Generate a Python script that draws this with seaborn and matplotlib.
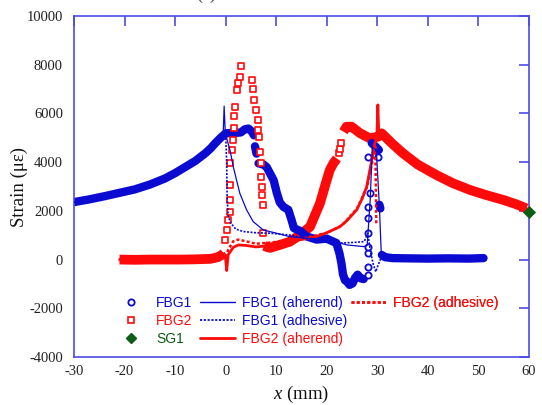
import numpy as np
import pandas as pd
import matplotlib
matplotlib.use("Agg")
import matplotlib.pyplot as plt
from matplotlib.lines import Line2D
import seaborn as sns

sns.set_theme(style="white")
plt.rcParams["font.family"] = ["Liberation Serif", "DejaVu Serif"]
plt.rcParams["axes.unicode_minus"] = False
plt.rcParams["mathtext.fontset"] = "custom"
plt.rcParams["mathtext.it"] = "Liberation Serif:italic"
plt.rcParams["mathtext.rm"] = "Liberation Serif"

# ---------------- data (x in mm, strain in microstrain) ----------------
# FBG1 measurements: dense runs
fbg1_run1_x = [-30, -27, -24, -21, -18, -15, -12, -10, -8, -6, -4, -3, -2, -1, 0, 1, 2, 3, 3.8, 4.5, 5.2, 5.6]
fbg1_run1_y = [2360, 2470, 2600, 2740, 2880, 3080, 3330, 3550, 3800, 4050, 4370, 4560, 4790, 5000, 5180, 5200, 5200, 5220, 5350, 5380, 5250, 5100]
fbg1_run2_x = [5.8, 6.1]
fbg1_run2_y = [4650, 4350]
fbg1_run3_x = [6.5, 7.5, 8.1, 9.0, 9.5, 10.1, 10.7, 11.4, 12.4, 13.0, 13.5, 14.7, 16.0, 18.0, 20.0, 20.6, 21.9,
               22.5, 22.9, 23.2, 23.6, 24.1, 24.5, 25.1, 25.6, 26.1, 26.7, 27.3]
fbg1_run3_y = [3950, 3900, 3800, 3450, 3250, 2750, 2350, 2170, 2040, 1650, 1290, 1180, 950, 820, 860, 800, 680,
               260, -150, -600, -850, -920, -1040, -980, -750, -620, -770, -800]
fbg1_run4_x = [28.9, 29.6, 30.3]
fbg1_run4_y = [4780, 4650, 4500]
fbg1_run5_x = [30.4, 30.6]
fbg1_run5_y = [2250, 2100]
fbg1_run6_x = [30.9, 31.5, 33, 36, 40, 44, 48, 51]
fbg1_run6_y = [190, 100, 60, 50, 40, 50, 40, 60]
# FBG1 isolated readings
fbg1_pts_x = [28.1, 28.1, 28.2, 28.2, 28.2, 28.2, 28.2, 28.55, 28.2, 30.2]
fbg1_pts_y = [-630, -290, 260, 530, 1080, 1700, 2170, 2720, 4225, 4225]

# FBG2 measurements: dense runs
fbg2_run1_x = [-21, -18, -15, -12, -9, -6, -3, -1.5, -0.8, -0.4]
fbg2_run1_y = [0, -10, 0, 0, 0, 10, 30, 100, 190, 250]
fbg2_run2_x = [7.6, 8.1, 8.8, 10.7, 12.7, 14.7, 16.7, 18.65, 20.0, 20.6, 21.3, 22.0]
fbg2_run2_y = [560, 520, 480, 600, 735, 1010, 1350, 2310, 3270, 3680, 3950, 4150]
fbg2_run3_x = [23.3, 23.9, 24.9, 26.6, 28.5, 30.2, 30.85, 33, 35.1, 38, 41.7, 45, 48.3, 51.5, 54.9, 57.5, 59.5]
fbg2_run3_y = [5250, 5455, 5455, 5185, 4980, 5045, 5185, 4750, 4360, 3900, 3470, 3130, 2860, 2650, 2450, 2270, 2100]
# FBG2 isolated readings
fbg2_pts_x = [-0.15, 0.2, 0.5, 0.85, 0.85, 0.85, 0.85, 1.2, 1.5, 1.7, 1.7, 1.9, 2.2, 2.5, 2.8, 2.95,
              5.15, 5.45, 5.6, 6.0, 6.3, 6.45, 6.65, 6.8, 6.9, 7.0, 7.1, 7.2, 7.3, 7.45,
              22.5, 22.7, 22.9]
fbg2_pts_y = [805, 1215, 1625, 1965, 2450, 3060, 3950, 4500, 4910, 5390, 5890, 6280, 6960, 7240, 7510, 7950,
              7370, 7000, 6550, 6140, 5730, 5320, 5045, 4430, 3950, 3400, 2990, 2650, 2240, 1080,
              4360, 4560, 4775]

# SG1 reading
sg1_x = [60]
sg1_y = [1950]

# Model predictions
fbg1_aher_x = [-30, -20, -10, -5, -2, -1, -0.5, -0.3, -0.1, 0.3, 0.85, 1.5, 2.8, 4.15, 5.45, 7.45, 10.1, 12.7, 16, 20,
               24, 27.4, 28.0, 28.6, 29.0, 29.8, 30.4, 30.8, 32, 51]
fbg1_aher_y = [2360, 2780, 3550, 4210, 4790, 5000, 5100, 6300, 5300, 4900, 4500, 3815, 2720, 2036, 1555, 1215, 1080, 940,
               880, 820, 600, 530, 600, 2500, 4600, 4500, 2200, 150, 50, 50]
fbg1_adh_x = [-30, -20, -10, -5, -2, 0, 0.2, 0.3, 0.5, 1.0, 2, 3.5, 6, 9, 13, 17, 22, 25, 27.4, 28.1, 28.7, 29.2, 29.7,
              30.2, 30.8, 32, 51]
fbg1_adh_y = [2360, 2780, 3550, 4210, 4790, 5100, 4000, 2500, 1800, 1500, 1250, 1150, 1100, 1080, 1000, 800, 670, 700,
              735, 1080, 260, -200, -500, -200, 100, 50, 50]
fbg2_aher_x = [-21, -10, -3, -1, -0.3, 0.0, 0.2, 0.5, 1.5, 2.5, 4, 6, 8, 10, 12, 15, 18, 20, 22.6, 24, 25.9, 27, 27.9,
               28.9, 29.5, 29.9, 30.1, 30.3, 31, 33, 35.1, 38, 41.7, 45, 48.3, 51.5, 54.9, 57.5, 60]
fbg2_aher_y = [0, 0, 30, 100, 250, 0, -450, 200, 500, 600, 580, 520, 560, 700, 760, 820, 950, 1100, 1350, 1600, 2036,
               2500, 2990, 4090, 4775, 5000, 6350, 5100, 5150, 4750, 4360, 3900, 3470, 3130, 2860, 2650, 2450, 2270, 2050]
fbg2_adh_x = [-1, 0, 0.5, 1.5, 2.5, 4, 6, 9, 12, 16, 20, 23, 26, 28, 29, 29.6, 29.7, 29.8]
fbg2_adh_y = [50, 100, 400, 750, 820, 750, 650, 700, 780, 900, 1100, 1400, 2100, 3000, 4000, 4700, 3000, 1400]

BLUE = "#0a0ad0"
RED = "#ff0a0a"
GREEN = "#0b5e14"
SPINE = "#4b4be6"
DOTS = (0, (1.2, 0.9))

fig = plt.figure(figsize=(5.42, 4.05), dpi=100)
ax = fig.add_axes([74 / 542, 1 - 357 / 405, 455 / 542, 341 / 405])


def df(x, y):
    return pd.DataFrame({"x": x, "y": y})


def run(x, y, color, lw, cap="round"):
    sns.lineplot(data=df(x, y), x="x", y="y", ax=ax, color=color, lw=lw, sort=False,
                 estimator=None, solid_capstyle=cap, solid_joinstyle="round", zorder=2)


# FBG2 measured
for xs, ys in [(fbg2_run1_x, fbg2_run1_y), (fbg2_run2_x, fbg2_run2_y), (fbg2_run3_x, fbg2_run3_y)]:
    run(xs, ys, RED, 7.0, cap="butt")
sns.scatterplot(data=df(fbg2_pts_x, fbg2_pts_y), x="x", y="y", ax=ax, marker="s", s=22,
                facecolor="white", edgecolor=RED, linewidth=1.2, zorder=3)

# FBG1 measured
for xs, ys in [(fbg1_run1_x, fbg1_run1_y), (fbg1_run2_x, fbg1_run2_y), (fbg1_run3_x, fbg1_run3_y),
               (fbg1_run4_x, fbg1_run4_y), (fbg1_run5_x, fbg1_run5_y), (fbg1_run6_x, fbg1_run6_y)]:
    run(xs, ys, BLUE, 6.0)
sns.scatterplot(data=df(fbg1_pts_x, fbg1_pts_y), x="x", y="y", ax=ax, marker="o", s=20,
                facecolor="white", edgecolor=BLUE, linewidth=1.3, zorder=3)

# Predictions
sns.lineplot(data=df(fbg2_aher_x, fbg2_aher_y), x="x", y="y", ax=ax, color=RED, lw=2.0,
             sort=False, estimator=None, zorder=4)
sns.lineplot(data=df(fbg2_adh_x, fbg2_adh_y), x="x", y="y", ax=ax, color=RED, lw=1.8,
             sort=False, estimator=None, zorder=4, linestyle=DOTS)
sns.lineplot(data=df(fbg1_aher_x, fbg1_aher_y), x="x", y="y", ax=ax, color=BLUE, lw=0.9,
             sort=False, estimator=None, zorder=5)
sns.lineplot(data=df(fbg1_adh_x, fbg1_adh_y), x="x", y="y", ax=ax, color=BLUE, lw=1.2,
             sort=False, estimator=None, zorder=5, linestyle=DOTS)

# SG1
sns.scatterplot(data=df(sg1_x, sg1_y), x="x", y="y", ax=ax, marker="D", s=38, color=GREEN,
                edgecolor=GREEN, zorder=6, clip_on=False)

# Axes styling
ax.set_xlim(-30, 60)
ax.set_ylim(-4000, 10000)
ax.set_xticks(np.arange(-30, 61, 10))
ax.set_yticks(np.arange(-4000, 10001, 2000))
ax.tick_params(direction="in", length=7, width=1.2, color=SPINE, top=True, right=True,
               labelsize=10.5, labelcolor="#222222")
ax.tick_params(axis="y", pad=8)
ax.tick_params(axis="x", pad=6)
for sp in ax.spines.values():
    sp.set_color(SPINE)
    sp.set_linewidth(1.2)
ax.set_xlabel(r"$x$ (mm)", fontsize=13.5, color="#111111", labelpad=4)
ax.set_ylabel("Strain (με)", fontsize=13.5, color="#111111", labelpad=-1)

# Legend, laid out as three columns
LEG_FONT = {"family": ["Liberation Sans"], "size": 10}


def legend_column(handles, labels, colors, x_px, y_px):
    leg = ax.legend(handles, labels, frameon=False, loc="center left",
                    bbox_to_anchor=(x_px / 542, 1 - y_px / 405), bbox_transform=fig.transFigure,
                    prop=LEG_FONT, handlelength=2.5, handletextpad=0.55, labelspacing=0.3,
                    borderpad=0, borderaxespad=0)
    for t, c in zip(leg.get_texts(), colors):
        t.set_color(c)
    ax.add_artist(leg)


legend_column(
    [Line2D([], [], lw=0, marker="o", ms=4.5, mfc="white", mec=BLUE, mew=1.3),
     Line2D([], [], lw=0, marker="s", ms=4.8, mfc="white", mec=RED, mew=1.2),
     Line2D([], [], lw=0, marker="D", ms=5.5, color=GREEN)],
    ["FBG1", "FBG2", "SG1"], [BLUE, RED, GREEN], 114, 321)
legend_column(
    [Line2D([], [], color=BLUE, lw=1.0),
     Line2D([], [], color=BLUE, lw=1.3, ls=DOTS),
     Line2D([], [], color=RED, lw=2.0)],
    ["FBG1 (aherend)", "FBG1 (adhesive)", "FBG2 (aherend)"], [BLUE, BLUE, RED], 200, 321)
legend_column(
    [Line2D([], [], color=RED, lw=1.8, ls=DOTS)],
    ["FBG2 (adhesive)"], [RED], 351, 303)

fig.text(206 / 542, 1 + 1 / 405, "(a)", ha="center", va="baseline", fontsize=13, color="#333333")

fig.savefig("out.png", dpi=100)
